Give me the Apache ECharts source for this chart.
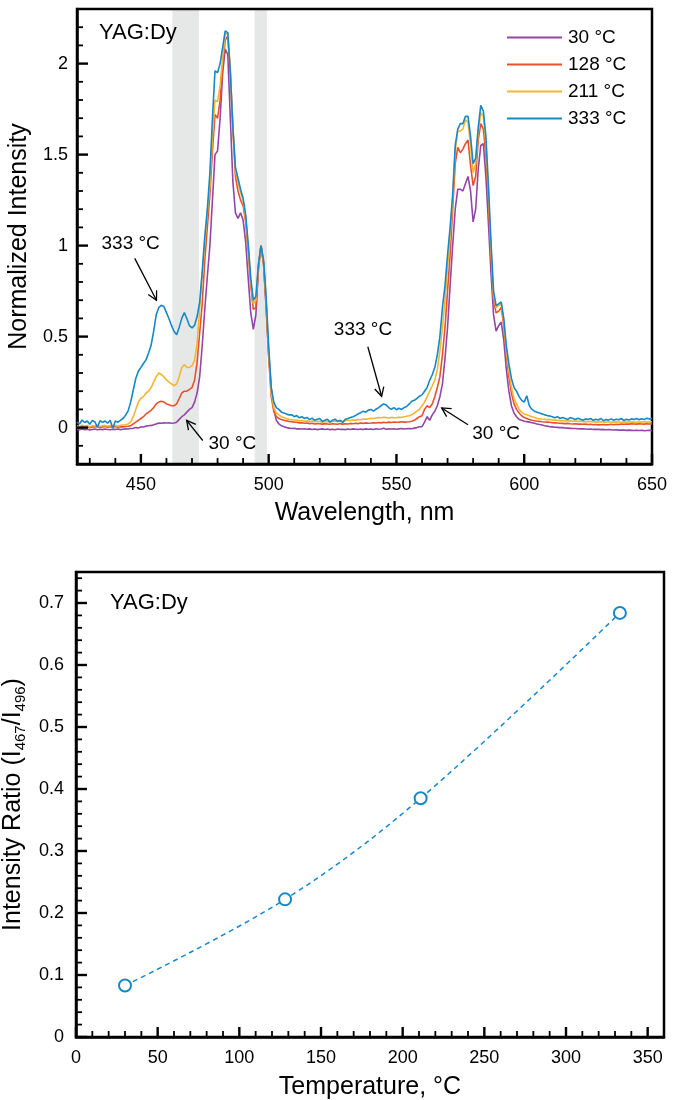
<!DOCTYPE html>
<html><head><meta charset="utf-8">
<script src="https://cdn.jsdelivr.net/npm/echarts@6/dist/echarts.min.js"></script>
<style>html,body{margin:0;padding:0;background:#fff}#c{width:682px;height:1100px}</style>
</head><body><div id="c"></div>
<script>
const wavelength = [
425,426,427,428,429,430,431,432,433,434,435,436,437,438,439,440,441,442,443,444,
445,446,447,448,449,450,451,452,453,454,455,456,457,458,459,460,461,462,463,464,
465,466,467,468,469,470,471,472,473,474,475,476,477,478,479,480,481,482,483,484,
485,486,487,488,489,490,491,492,493,494,495,496,497,498,499,500,501,502,503,504,
505,506,507,508,509,510,511,512,513,514,515,516,517,518,519,520,521,522,523,524,
525,526,527,528,529,530,531,532,533,534,535,536,537,538,539,540,541,542,543,544,
545,546,547,548,549,550,551,552,553,554,555,556,557,558,559,560,561,562,563,564,
565,566,567,568,569,570,571,572,573,574,575,576,577,578,579,580,581,582,583,584,
585,586,587,588,589,590,591,592,593,594,595,596,597,598,599,600,601,602,603,604,
605,606,607,608,609,610,611,612,613,614,615,616,617,618,619,620,621,622,623,624,
625,626,627,628,629,630,631,632,633,634,635,636,637,638,639,640,641,642,643,644,
645,646,647,648,649,650];

const int30 = [
-0.010,-0.012,-0.008,-0.011,-0.009,-0.013,-0.010,-0.008,-0.012,-0.009,
-0.011,-0.008,-0.010,-0.012,-0.009,-0.010,-0.008,-0.011,-0.009,-0.007,
-0.008,-0.005,-0.004,0.000,-0.002,0.004,0.003,0.008,0.010,0.012,
0.015,0.020,0.025,0.024,0.026,0.025,0.027,0.024,0.025,0.030,
0.045,0.060,0.070,0.085,0.100,0.110,0.140,0.190,0.280,0.450,
0.650,0.830,1.000,1.250,1.500,1.520,1.700,1.950,2.080,2.050,
1.700,1.350,1.180,1.150,1.180,1.140,1.020,0.820,0.630,0.540,
0.620,0.880,1.000,0.900,0.660,0.400,0.220,0.100,0.040,0.020,
0.010,0.005,0.000,-0.003,-0.005,-0.004,-0.007,-0.006,-0.008,-0.006,
-0.009,-0.007,-0.010,-0.008,-0.011,-0.009,-0.007,-0.010,-0.008,-0.011,
-0.009,-0.012,-0.008,-0.010,-0.009,-0.011,-0.008,-0.010,-0.007,-0.009,
-0.010,-0.008,-0.011,-0.007,-0.009,-0.008,-0.010,-0.006,-0.009,-0.008,
-0.004,-0.009,-0.007,-0.008,-0.006,-0.009,-0.007,-0.005,-0.008,-0.006,
-0.005,-0.006,-0.003,0.000,0.005,0.005,0.030,0.060,0.040,0.070,
0.090,0.120,0.170,0.240,0.380,0.550,0.780,1.000,1.200,1.310,
1.310,1.300,1.340,1.380,1.300,1.130,1.200,1.420,1.550,1.560,
1.380,1.120,0.850,0.620,0.530,0.560,0.580,0.480,0.320,0.200,
0.120,0.080,0.060,0.045,0.040,0.035,0.033,0.030,0.027,0.024,
0.020,0.017,0.014,0.010,0.008,0.005,0.004,0.002,0.001,0.000,
0.000,-0.002,-0.003,-0.004,-0.005,-0.005,-0.006,-0.007,-0.007,-0.008,
-0.009,-0.008,-0.010,-0.009,-0.010,-0.011,-0.010,-0.012,-0.011,-0.012,
-0.013,-0.012,-0.014,-0.013,-0.014,-0.015,-0.014,-0.015,-0.016,-0.015,
-0.016,-0.015,-0.017,-0.016,-0.015,-0.016];

const int128 = [
0.004,0.000,0.007,0.002,0.006,-0.001,0.005,0.003,0.006,0.001,
0.004,0.006,0.002,0.005,0.003,0.006,0.002,0.005,0.004,0.006,
0.007,0.010,0.020,0.030,0.040,0.050,0.060,0.075,0.085,0.095,
0.110,0.130,0.140,0.145,0.140,0.130,0.125,0.120,0.120,0.130,
0.160,0.190,0.200,0.200,0.210,0.220,0.260,0.360,0.520,0.680,
0.920,1.100,1.280,1.520,1.720,1.700,1.800,1.980,2.130,2.150,
1.950,1.640,1.380,1.300,1.250,1.220,1.130,0.970,0.780,0.650,
0.660,0.870,1.000,0.900,0.680,0.390,0.170,0.090,0.060,0.050,
0.045,0.040,0.037,0.034,0.032,0.030,0.029,0.026,0.027,0.024,
0.025,0.022,0.024,0.020,0.022,0.021,0.019,0.022,0.020,0.018,
0.021,0.020,0.018,0.022,0.019,0.021,0.020,0.023,0.021,0.024,
0.022,0.025,0.023,0.026,0.024,0.025,0.027,0.025,0.028,0.026,
0.029,0.027,0.030,0.028,0.031,0.029,0.030,0.032,0.030,0.031,
0.032,0.035,0.040,0.050,0.060,0.065,0.100,0.120,0.110,0.130,
0.170,0.220,0.280,0.400,0.550,0.750,0.950,1.200,1.450,1.540,
1.510,1.530,1.560,1.580,1.440,1.330,1.380,1.580,1.670,1.640,
1.500,1.250,0.940,0.700,0.630,0.640,0.660,0.560,0.400,0.280,
0.190,0.130,0.100,0.080,0.065,0.055,0.050,0.045,0.040,0.038,
0.035,0.034,0.032,0.031,0.030,0.029,0.027,0.026,0.025,0.024,
0.023,0.022,0.023,0.021,0.020,0.021,0.019,0.020,0.018,0.019,
0.017,0.018,0.016,0.017,0.015,0.016,0.017,0.015,0.016,0.018,
0.016,0.018,0.017,0.019,0.018,0.020,0.019,0.021,0.020,0.019,
0.021,0.020,0.019,0.021,0.020,0.021];

const int211 = [
0.010,0.005,0.014,0.008,0.012,0.004,0.011,0.009,0.013,0.006,
0.010,0.012,0.007,0.011,0.009,0.013,0.008,0.012,0.014,0.016,
0.020,0.030,0.060,0.100,0.140,0.160,0.170,0.190,0.200,0.220,
0.250,0.280,0.300,0.292,0.280,0.262,0.250,0.240,0.230,0.240,
0.280,0.330,0.345,0.332,0.330,0.340,0.370,0.460,0.650,0.830,
1.020,1.180,1.330,1.600,1.800,1.790,1.880,2.030,2.160,2.170,
1.960,1.660,1.410,1.350,1.290,1.250,1.150,0.990,0.800,0.680,
0.700,0.890,1.000,0.910,0.700,0.420,0.190,0.110,0.080,0.070,
0.060,0.055,0.050,0.046,0.044,0.040,0.042,0.037,0.039,0.035,
0.037,0.033,0.036,0.032,0.035,0.034,0.030,0.034,0.033,0.031,
0.034,0.036,0.033,0.037,0.035,0.038,0.040,0.039,0.042,0.041,
0.044,0.043,0.047,0.046,0.049,0.051,0.050,0.053,0.055,0.054,
0.057,0.055,0.053,0.056,0.054,0.055,0.057,0.056,0.060,0.062,
0.065,0.070,0.080,0.090,0.100,0.120,0.140,0.170,0.200,0.230,
0.260,0.320,0.420,0.550,0.700,0.880,1.050,1.250,1.520,1.630,
1.630,1.640,1.690,1.680,1.550,1.400,1.450,1.620,1.730,1.710,
1.560,1.300,0.980,0.720,0.660,0.670,0.680,0.580,0.420,0.310,
0.220,0.160,0.130,0.100,0.085,0.075,0.070,0.065,0.060,0.055,
0.050,0.049,0.047,0.046,0.044,0.045,0.042,0.041,0.040,0.038,
0.039,0.037,0.036,0.038,0.035,0.036,0.034,0.035,0.033,0.034,
0.032,0.034,0.031,0.033,0.030,0.032,0.031,0.030,0.032,0.029,
0.031,0.030,0.032,0.029,0.031,0.030,0.032,0.030,0.031,0.029,
0.031,0.030,0.032,0.030,0.031,0.032];

const int333 = [
0.030,0.020,0.042,0.028,0.036,0.018,0.040,0.031,0.002,0.038,
0.029,0.036,0.024,0.041,-0.004,0.036,0.030,0.040,0.050,0.068,
0.092,0.140,0.205,0.270,0.310,0.330,0.352,0.372,0.410,0.452,
0.530,0.620,0.660,0.672,0.665,0.632,0.598,0.560,0.528,0.510,
0.552,0.600,0.632,0.598,0.560,0.548,0.562,0.610,0.690,0.860,
1.050,1.200,1.400,1.700,1.960,1.950,2.000,2.090,2.180,2.170,
1.950,1.650,1.430,1.370,1.310,1.260,1.170,1.010,0.820,0.700,
0.720,0.900,1.000,0.920,0.720,0.450,0.220,0.140,0.110,0.100,
0.085,0.080,0.074,0.070,0.071,0.060,0.066,0.054,0.060,0.050,
0.056,0.044,0.052,0.040,0.046,0.050,0.034,0.041,0.046,0.030,
0.041,0.046,0.034,0.040,0.028,0.046,0.050,0.056,0.060,0.066,
0.075,0.082,0.090,0.085,0.096,0.100,0.090,0.101,0.110,0.120,
0.130,0.124,0.110,0.100,0.110,0.098,0.106,0.100,0.110,0.116,
0.130,0.145,0.150,0.160,0.172,0.180,0.200,0.220,0.260,0.290,
0.330,0.400,0.500,0.660,0.780,0.950,1.100,1.280,1.550,1.640,
1.670,1.670,1.710,1.710,1.600,1.450,1.480,1.650,1.770,1.740,
1.600,1.330,1.020,0.750,0.670,0.680,0.690,0.600,0.450,0.350,
0.270,0.220,0.200,0.170,0.150,0.140,0.175,0.120,0.100,0.090,
0.085,0.080,0.075,0.070,0.066,0.064,0.060,0.054,0.060,0.050,
0.056,0.050,0.044,0.055,0.050,0.045,0.051,0.046,0.040,0.048,
0.044,0.050,0.040,0.046,0.042,0.050,0.038,0.045,0.041,0.048,
0.040,0.046,0.043,0.050,0.039,0.046,0.042,0.048,0.044,0.050,
0.043,0.049,0.045,0.052,0.047,0.050];

const seriesNames = ['30 °C', '128 °C', '211 °C', '333 °C'];
const temperature = [30, 128, 211, 333];
const intensityRatio = [0.083, 0.222, 0.385, 0.684];

// tick labels and tick positions
const wlTicks = [450, 500, 550, 600, 650];
const wlMinorTicks = [430, 440, 460, 470, 480, 490, 510, 520, 530, 540, 560, 570, 580, 590, 610, 620, 630, 640];
const intTicks = [0, 0.5, 1, 1.5, 2];
const intMinorTicks = [-0.1, 0.1, 0.2, 0.3, 0.4, 0.6, 0.7, 0.8, 0.9, 1.1, 1.2, 1.3, 1.4, 1.6, 1.7, 1.8, 1.9, 2.1, 2.2];
const tTicks = [0, 50, 100, 150, 200, 250, 300, 350];
const tMinorTicks = [10, 20, 30, 40, 60, 70, 80, 90, 110, 120, 130, 140, 160, 170, 180, 190, 210, 220, 230, 240, 260, 270, 280, 290, 310, 320, 330, 340];
const rTicks = [0, 0.1, 0.2, 0.3, 0.4, 0.5, 0.6, 0.7];
const rMinorTicks = [0.02, 0.04, 0.06, 0.08, 0.12, 0.14, 0.16, 0.18, 0.22, 0.24, 0.26, 0.28, 0.32, 0.34, 0.36, 0.38, 0.42, 0.44, 0.46, 0.48, 0.52, 0.54, 0.56, 0.58, 0.62, 0.64, 0.66, 0.68, 0.72, 0.74];

const bands = [[462.3, 472.7], [494.5, 499.3]];
const annotations = [
  { text: '333 °C', label: [446.0, 1.008], from: [447.6, 0.93], to: [456.1, 0.70] },
  { text: '333 °C', label: [536.9, 0.537], from: [538.8, 0.444], to: [544.2, 0.172] },
  { text: '30 °C', label: [485.8, -0.09], from: [474.2, -0.071], to: [467.9, 0.04] },
  { text: '30 °C', label: [589.0, -0.036], from: [578.0, 0.016], to: [567.7, 0.108] }
];

const FONT = '"Liberation Sans", Arial, Helvetica, sans-serif';
const colors = ['#9446a8', '#e8512b', '#f2b632', '#1688c9'];
const spectra = [int30, int128, int211, int333];
const X1 = [425, 650], Y1 = [-0.2, 2.3], X2 = [0, 360], Y2 = [0, 0.75];

const chart = echarts.init(document.getElementById('c'), null, { renderer: 'canvas' });

function labelFmt(ticks) {
  return function (v) {
    for (const t of ticks) { if (Math.abs(t - v) < 1e-7) return String(t); }
    return '';
  };
}
function mainAxis(o) {
  const ax = {
    type: 'value', gridIndex: o.grid, min: o.ext[0], max: o.ext[1], position: o.pos,
    name: o.name, nameLocation: 'middle', nameGap: o.nameGap,
    nameTextStyle: o.nameStyle || { fontSize: 25, color: '#000', fontFamily: FONT },
    axisLine: { show: true, onZero: false, lineStyle: { color: '#000', width: 2.5 } },
    axisTick: { show: false },
    axisLabel: { show: true, showMinLabel: true, showMaxLabel: true, formatter: labelFmt(o.ticks), margin: o.margin, fontSize: 18, color: '#000', fontFamily: FONT },
    splitLine: { show: false }, minorTick: { show: false }
  };
  if (o.interval != null) ax.interval = o.interval;
  if (o.fixedStep != null) { ax.minInterval = o.fixedStep; ax.maxInterval = o.fixedStep; }
  return ax;
}

const lineSeries = spectra.map((vals, k) => ({
  name: seriesNames[k],
  type: 'line',
  xAxisIndex: 0, yAxisIndex: 0,
  data: wavelength.map((w, i) => [w, vals[i]]),
  symbol: 'none', showSymbol: false,
  lineStyle: { color: colors[k], width: 1.6 },
  itemStyle: { color: colors[k] },
  z: 3 + k,
  silent: true
}));

const option = {
  animation: false,
  backgroundColor: '#fff',
  textStyle: { fontFamily: FONT },
  grid: [
    { left: 77, top: 9, width: 575, height: 455, containLabel: false, outerBoundsMode: 'none', show: true, borderColor: '#000', borderWidth: 2.5, backgroundColor: 'transparent' },
    { left: 76, top: 572, width: 588, height: 465, containLabel: false, outerBoundsMode: 'none', show: true, borderColor: '#000', borderWidth: 2.5, backgroundColor: 'transparent' }
  ],
  xAxis: [
    mainAxis({ grid: 0, ext: X1, fixedStep: 50, ticks: wlTicks, name: 'Wavelength, nm', nameGap: 37, pos: 'bottom', margin: 12 }),
    mainAxis({ grid: 1, ext: X2, interval: 50, ticks: tTicks, name: 'Temperature, °C', nameGap: 38, pos: 'bottom', margin: 12 })
  ],
  yAxis: [
    mainAxis({ grid: 0, ext: Y1, fixedStep: 0.5, ticks: intTicks, name: 'Normalized Intensity', nameGap: 32, pos: 'left', margin: 9 }),
    mainAxis({ grid: 1, ext: Y2, interval: 0.1, ticks: rTicks, name: '{a|Intensity Ratio (I}{s|467}{a|/I}{s|496}{a|)}', nameGap: 29, pos: 'left', margin: 12, nameStyle: {
      color: '#000', fontFamily: FONT,
      rich: {
        a: { fontSize: 25, lineHeight: 30, color: '#000', fontFamily: FONT },
        s: { fontSize: 15, lineHeight: 15, verticalAlign: 'bottom', color: '#000', fontFamily: FONT }
      }
    } })
  ],
  legend: {
    data: seriesNames.map(n => ({ name: n, icon: 'rect' })),
    orient: 'vertical',
    left: 502, top: 23,
    itemWidth: 55, itemHeight: 2, itemGap: 8,
    textStyle: { fontSize: 19, color: '#000', fontFamily: FONT, padding: [0, 0, 0, 1] },
    selectedMode: false
  },
  series: [
    {
      name: 'bands', type: 'line', xAxisIndex: 0, yAxisIndex: 0, data: [], z: -1, silent: true,
      markArea: {
        silent: true, z: -1,
        itemStyle: { color: '#e6e8e8' },
        data: bands.map(b => [{ xAxis: b[0] }, { xAxis: b[1] }])
      }
    },
    ...lineSeries,
    {
      name: 'ratio', type: 'line', xAxisIndex: 1, yAxisIndex: 1,
      data: temperature.map((t, i) => [t, intensityRatio[i]]),
      smooth: 0.35,
      symbol: 'emptyCircle', symbolSize: 12,
      lineStyle: { color: '#1688c9', width: 1.5, type: [5, 4] },
      itemStyle: { color: '#1688c9', borderWidth: 1.6 },
      silent: true, z: 5
    }
  ]
};
chart.setOption(option);

const graphics = [
  { type: 'text', x: 99, y: 33, style: { text: 'YAG:Dy', fontSize: 22, fill: '#000', fontFamily: FONT, textVerticalAlign: 'middle', verticalAlign: 'middle' }, z: 20 },
  { type: 'text', x: 110, y: 603, style: { text: 'YAG:Dy', fontSize: 22, fill: '#000', fontFamily: FONT, textVerticalAlign: 'middle', verticalAlign: 'middle' }, z: 20 }
];

// tick marks placed through the axes' own scales (drawn as thin filled rects)
function addTicks(gi, dim, values, anchor, len, width) {
  values.forEach(v => {
    const p = chart.convertToPixel({ xAxisIndex: gi, yAxisIndex: gi }, dim === 'x' ? [v, anchor] : [anchor, v]);
    if (!p || !isFinite(p[0]) || !isFinite(p[1])) return;
    const shape = dim === 'x'
      ? { x: p[0] - width / 2, y: p[1] - len, width: width, height: len }
      : { x: p[0], y: p[1] - width / 2, width: len, height: width };
    graphics.push({ type: 'rect', shape: shape, style: { fill: '#000' }, z: 30, silent: true });
  });
}
addTicks(0, 'x', wlTicks, Y1[0], 10, 2.4);
addTicks(0, 'x', wlMinorTicks, Y1[0], 6, 1.8);
addTicks(0, 'y', intTicks, X1[0], 11, 2.4);
addTicks(0, 'y', intMinorTicks, X1[0], 6, 1.8);
addTicks(1, 'x', tTicks, Y2[0], 10, 2.4);
addTicks(1, 'x', tMinorTicks, Y2[0], 6, 1.8);
addTicks(1, 'y', rTicks, X2[0], 11, 2.4);
addTicks(1, 'y', rMinorTicks, X2[0], 6, 1.8);

function px(pt) { return chart.convertToPixel({ xAxisIndex: 0, yAxisIndex: 0 }, pt); }
annotations.forEach((a) => {
  const lp = px(a.label), f = px(a.from), t = px(a.to);
  graphics.push({ type: 'text', x: lp[0], y: lp[1], style: { text: a.text, fontSize: 19, fill: '#000', fontFamily: FONT, align: 'center', verticalAlign: 'middle', textAlign: 'center', textVerticalAlign: 'middle' }, z: 20 });
  graphics.push({ type: 'line', shape: { x1: f[0], y1: f[1], x2: t[0], y2: t[1] }, style: { stroke: '#000', lineWidth: 1.3 }, z: 20 });
  const dx = t[0] - f[0], dy = t[1] - f[1], L = Math.hypot(dx, dy);
  const ux = dx / L, uy = dy / L, hl = 10, th = 28 * Math.PI / 180;
  const c = Math.cos(th), s = Math.sin(th);
  const p1 = [t[0] - hl * (ux * c - uy * s), t[1] - hl * (uy * c + ux * s)];
  const p2 = [t[0] - hl * (ux * c + uy * s), t[1] - hl * (uy * c - ux * s)];
  graphics.push({ type: 'polyline', shape: { points: [p1, t, p2] }, style: { stroke: '#000', lineWidth: 1.3, fill: null }, z: 20 });
});
chart.setOption({ graphic: graphics });
</script>
</body></html>
